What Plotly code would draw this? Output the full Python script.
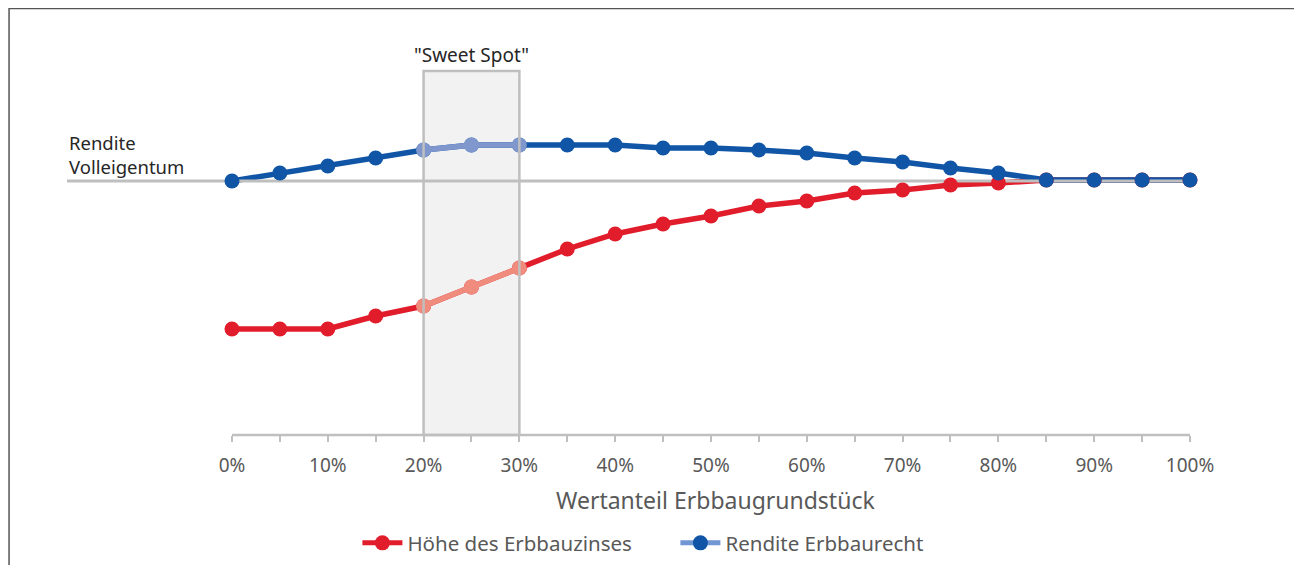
import plotly.graph_objects as go

# Wertanteil des Grundstücks (x) und relative Werte (Referenz = Rendite Volleigentum = 0)
anteil = [0, 5, 10, 15, 20, 25, 30, 35, 40, 45, 50, 55, 60, 65, 70, 75, 80, 85, 90, 95, 100]
rendite_erbbaurecht = [0, 0.8, 1.5, 2.3, 3.1, 3.6, 3.6, 3.6, 3.6, 3.3, 3.3, 3.1, 2.8, 2.3,
                       1.9, 1.3, 0.8, 0.1, 0.1, 0.1, 0.1]
erbbauzins = [-14.8, -14.8, -14.8, -13.5, -12.5, -10.6, -8.7, -6.8, -5.3, -4.3, -3.5, -2.5,
              -2.0, -1.2, -0.9, -0.4, -0.2, 0.1, 0.1, 0.1, 0.1]
tick_labels = ["0%", "", "10%", "", "20%", "", "30%", "", "40%", "", "50%", "", "60%", "",
               "70%", "", "80%", "", "90%", "", "100%"]
sweet_spot = (20, 30)
referenz = 0

RED = "#e11d2c"
BLUE = "#1156a6"
RED_LIGHT = "#f08c7e"
BLUE_LIGHT = "#7f97cc"
GREY = "#bfbfbf"
TEXT = "#595959"
FONT = "Noto Sans"

x_min = -17.22
y_min, y_max = -25.4, 11.0

fig = go.Figure()

# lines first
fig.add_trace(go.Scatter(x=anteil, y=erbbauzins, mode="lines",
                         line=dict(color=RED, width=5.5), showlegend=False, hoverinfo="skip"))
fig.add_trace(go.Scatter(x=anteil, y=rendite_erbbaurecht, mode="lines",
                         line=dict(color=BLUE, width=5.5), showlegend=False, hoverinfo="skip"))

# reference line above the series lines
fig.add_trace(go.Scatter(x=[x_min, 100], y=[referenz, referenz], mode="lines",
                         line=dict(color=GREY, width=3), showlegend=False, hoverinfo="skip"))

# markers
fig.add_trace(go.Scatter(x=anteil, y=erbbauzins, mode="markers",
                         marker=dict(color=RED, size=15), showlegend=False, cliponaxis=False))
fig.add_trace(go.Scatter(x=anteil, y=rendite_erbbaurecht, mode="markers",
                         marker=dict(color=BLUE, size=15), showlegend=False, cliponaxis=False))

# lighter segments inside the sweet spot
idx = [i for i, a in enumerate(anteil) if sweet_spot[0] <= a <= sweet_spot[1]]
fig.add_trace(go.Scatter(x=[anteil[i] for i in idx], y=[erbbauzins[i] for i in idx],
                         mode="lines+markers", line=dict(color=RED_LIGHT, width=5.5),
                         marker=dict(color=RED_LIGHT, size=15), showlegend=False))
fig.add_trace(go.Scatter(x=[anteil[i] for i in idx], y=[rendite_erbbaurecht[i] for i in idx],
                         mode="lines+markers", line=dict(color=BLUE_LIGHT, width=5.5),
                         marker=dict(color=BLUE_LIGHT, size=15), showlegend=False))

# legend entries
fig.add_trace(go.Scatter(x=[None], y=[None], mode="lines+markers", name="Höhe des Erbbauzinses",
                         line=dict(color=RED, width=5), marker=dict(color=RED, size=15)))
fig.add_trace(go.Scatter(x=[None], y=[None], mode="lines+markers", name="Rendite Erbbaurecht",
                         line=dict(color="#7096d4", width=5), marker=dict(color=BLUE, size=15)))

# sweet spot box
fig.add_shape(type="rect", xref="x", yref="paper", x0=sweet_spot[0], x1=sweet_spot[1],
              y0=0, y1=1, fillcolor="#f2f2f2", line_width=0, layer="below")
fig.add_shape(type="rect", xref="x", yref="paper", x0=sweet_spot[0], x1=sweet_spot[1],
              y0=0, y1=1, fillcolor="rgba(0,0,0,0)", line=dict(color=GREY, width=2.5),
              layer="above")
# x axis line
fig.add_shape(type="line", xref="x", yref="paper", x0=0, x1=100, y0=0, y1=0,
              line=dict(color=GREY, width=2.5), layer="above")
# outer frame
fig.add_shape(type="rect", xref="paper", yref="paper", x0=-0.0516, x1=1.0962,
              y0=-0.4, y1=1.1714, line=dict(color="#555555", width=1.5))

fig.add_annotation(x=(sweet_spot[0] + sweet_spot[1]) / 2, y=1, xref="x", yref="paper",
                   text='"Sweet Spot"', showarrow=False, yanchor="bottom", yshift=1,
                   font=dict(family=FONT, size=19, color="#262626"))
fig.add_annotation(x=x_min, y=referenz, xref="x", yref="y", text="Rendite<br>Volleigentum",
                   showarrow=False, xanchor="left", yanchor="bottom", align="left", yshift=0,
                   font=dict(family=FONT, size=18.5, color="#262626"))
fig.add_annotation(x=50.5, y=-0.1786, xref="x", yref="paper", text="Wertanteil Erbbaugrundstück",
                   showarrow=False, yanchor="middle",
                   font=dict(family=FONT, size=23, color=TEXT))

fig.update_xaxes(range=[x_min, 100], showgrid=False, zeroline=False, showline=False,
                 tickvals=anteil, ticktext=tick_labels, ticks="outside", ticklen=6,
                 tickcolor=GREY, tickwidth=2, ticklabelstandoff=7,
                 tickfont=dict(family=FONT, size=19, color=TEXT))
fig.update_yaxes(range=[y_min, y_max], visible=False)

# page has an 8px body margin, so the figure is 8px smaller and shifted
fig.update_layout(
    width=1294, height=557,
    margin=dict(l=59, r=112, t=63, b=130, autoexpand=False),
    paper_bgcolor="white", plot_bgcolor="white",
    legend=dict(orientation="h", x=0.2586, xanchor="left", y=-0.2967, yanchor="middle",
                font=dict(family=FONT, size=20.5, color=TEXT), itemwidth=40,
                entrywidth=263, bgcolor="rgba(0,0,0,0)"),
    font=dict(family=FONT),
)

fig.write_html("out.html")
